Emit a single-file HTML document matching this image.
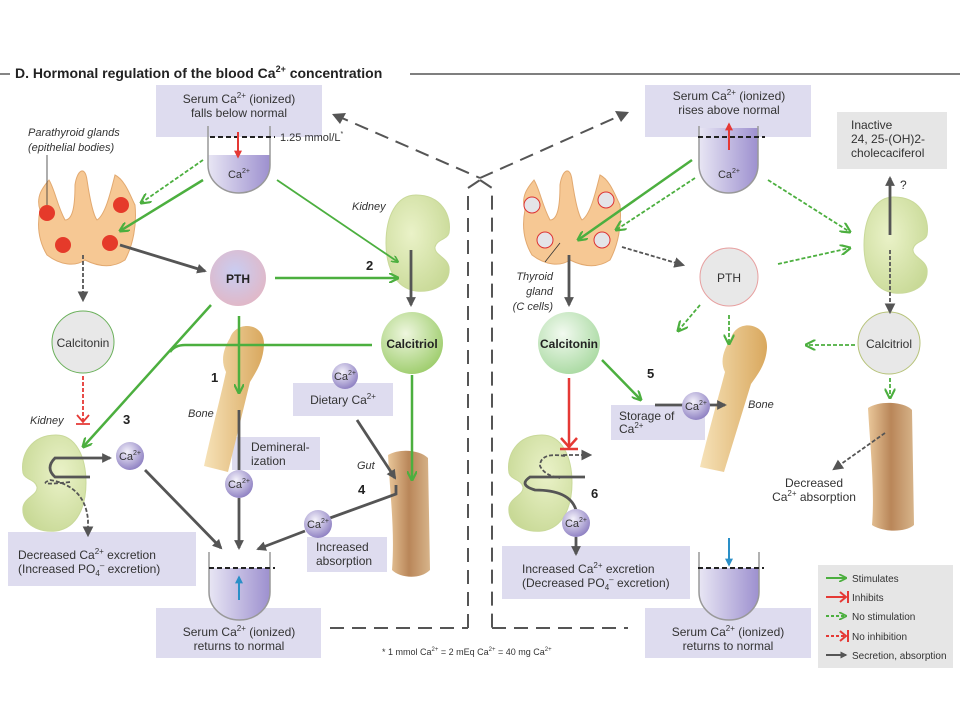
<!DOCTYPE html>
<html><head><meta charset="utf-8"><style>
body{margin:0;background:#fff}
svg{display:block;font-family:"Liberation Sans",sans-serif}
</style></head><body>
<svg width="960" height="720" viewBox="0 0 960 720" xmlns="http://www.w3.org/2000/svg">
<defs>
<marker id="ag" viewBox="0 0 10 10" refX="9" refY="5" markerWidth="4" markerHeight="4" orient="auto-start-reverse" markerUnits="strokeWidth"><path d="M0,0 L10,5 L0,10" fill="none" stroke="#4caf3f" stroke-width="2.2"/></marker>
<marker id="agd" viewBox="0 0 10 10" refX="9" refY="5" markerWidth="6" markerHeight="6" orient="auto" markerUnits="strokeWidth"><path d="M0,0 L10,5 L0,10" fill="none" stroke="#4caf3f" stroke-width="2"/></marker>
<marker id="ak" viewBox="0 0 10 10" refX="8" refY="5" markerWidth="3.5" markerHeight="3.5" orient="auto" markerUnits="strokeWidth"><path d="M0,0 L10,5 L0,10 Z" fill="#555"/></marker>
<marker id="akd" viewBox="0 0 10 10" refX="8" refY="5" markerWidth="6" markerHeight="6" orient="auto" markerUnits="strokeWidth"><path d="M0,0 L10,5 L0,10 Z" fill="#555"/></marker>
<marker id="ar" viewBox="0 0 10 10" refX="8" refY="5" markerWidth="4" markerHeight="4" orient="auto" markerUnits="strokeWidth"><path d="M0,0 L10,5 L0,10 Z" fill="#e53935"/></marker>
<marker id="ab" viewBox="0 0 10 10" refX="8" refY="5" markerWidth="4" markerHeight="4" orient="auto" markerUnits="strokeWidth"><path d="M0,0 L10,5 L0,10 Z" fill="#2a8fc7"/></marker>
<radialGradient id="sph" cx="0.4" cy="0.35" r="0.7"><stop offset="0" stop-color="#f4f2fb"/><stop offset="1" stop-color="#8a7cc0"/></radialGradient>
<radialGradient id="pth" cx="0.45" cy="0.4" r="0.6"><stop offset="0" stop-color="#c9cdf2"/><stop offset="1" stop-color="#e0b8c8"/></radialGradient>
<radialGradient id="grn" cx="0.4" cy="0.35" r="0.7"><stop offset="0" stop-color="#eef6de"/><stop offset="1" stop-color="#9ccc6a"/></radialGradient>
<radialGradient id="grn2" cx="0.4" cy="0.35" r="0.7"><stop offset="0" stop-color="#f2faf0"/><stop offset="1" stop-color="#a8d9a0"/></radialGradient>
<radialGradient id="kg" cx="0.4" cy="0.4" r="0.7"><stop offset="0" stop-color="#eaf2c8"/><stop offset="1" stop-color="#c8d996"/></radialGradient>
<linearGradient id="liq" x1="0" x2="1"><stop offset="0" stop-color="#e8e6f4"/><stop offset="1" stop-color="#9d90cf"/></linearGradient>
<linearGradient id="bone" x1="0" x2="1"><stop offset="0" stop-color="#f6e2b8"/><stop offset="1" stop-color="#d9a85e"/></linearGradient>
<linearGradient id="gut" x1="0" x2="1"><stop offset="0" stop-color="#e9c79a"/><stop offset="0.5" stop-color="#b98659"/><stop offset="1" stop-color="#d7b48a"/></linearGradient>
<g id="kid"><path d="M30,0 C55,0 66,20 63,38 C61,45 51,44 49,52 C48,60 61,62 63,72 C65,90 46,98 30,96 C8,93 0,70 0,48 C0,22 10,0 30,0 Z" fill="url(#kg)" stroke="#c9d99a"/></g>
<g id="thy"><path d="M5,45 C0,30 10,20 14,15 C20,25 22,40 30,55 C38,55 40,40 40,20 C42,5 50,0 52,15 C55,35 58,50 62,55 C70,50 75,30 80,10 C90,15 95,30 100,40 C102,60 98,80 90,95 C75,105 60,100 50,95 C40,102 25,100 12,90 C3,75 2,60 5,45 Z" fill="#f6c894" stroke="#e2a970"/></g>
</defs>

<line x1="0" y1="74" x2="10" y2="74" stroke="#333" stroke-width="1.2"/>
<line x1="410" y1="74" x2="960" y2="74" stroke="#333" stroke-width="1.2"/>
<text x="15" y="78" font-size="14" font-weight="bold" fill="#222">D. Hormonal regulation of the blood Ca<tspan font-size="9" dy="-6">2+</tspan><tspan dy="6"> concentration</tspan></text>

<g fill="#dedcef">
<rect x="156" y="85" width="166" height="52"/>
<rect x="645" y="85" width="166" height="52"/>
<rect x="8" y="532" width="188" height="54"/>
<rect x="156" y="608" width="165" height="50"/>
<rect x="645" y="608" width="166" height="50"/>
<rect x="502" y="546" width="188" height="53"/>
<rect x="293" y="383" width="100" height="33"/>
<rect x="232" y="437" width="88" height="33"/>
<rect x="307" y="537" width="80" height="35"/>
<rect x="611" y="405" width="94" height="35"/>
</g>
<rect x="837" y="112" width="110" height="57" fill="#e6e6e6"/>
<rect x="818" y="565" width="135" height="103" fill="#e6e6e6"/>

<g stroke="#555" stroke-width="2" fill="none" stroke-dasharray="14,8">
<polyline points="335,115 480,178"/>
<polyline points="480,178 626,113"/>
<polyline points="468,628 468,188 480,180"/>
<polyline points="480,180 492,188 492,628"/>
<line x1="330" y1="628" x2="468" y2="628"/>
<line x1="492" y1="628" x2="628" y2="628"/>
</g>
<path d="M332,114 L346,113 L340,124 Z" fill="#555"/>
<path d="M629,112 L615,111 L621,122 Z" fill="#555"/>

<g>
<path d="M208,155 L270,155 L270,165 A31,28 0 0 1 208,165 Z" fill="url(#liq)"/>
<path d="M208,126 L208,165 A31,28 0 0 0 270,165 L270,126" fill="none" stroke="#999" stroke-width="1.5"/>
<line x1="210" y1="137" x2="275" y2="137" stroke="#222" stroke-width="2" stroke-dasharray="5,3"/>
<line x1="238" y1="132" x2="238" y2="157" stroke="#e53935" stroke-width="2" marker-end="url(#ar)"/>
<text x="239" y="178" font-size="11" text-anchor="middle" fill="#333">Ca<tspan font-size="7" dy="-5">2+</tspan></text>
<text x="280" y="141" font-size="11" fill="#333">1.25 mmol/L<tspan font-size="7" dy="-5">*</tspan></text>

<path d="M699,128 L758,128 L758,165 A29.5,28 0 0 1 699,165 Z" fill="url(#liq)"/>
<path d="M699,126 L699,165 A29.5,28 0 0 0 758,165 L758,126" fill="none" stroke="#999" stroke-width="1.5"/>
<line x1="698" y1="137" x2="765" y2="137" stroke="#222" stroke-width="2" stroke-dasharray="5,3"/>
<line x1="729" y1="150" x2="729" y2="124" stroke="#e53935" stroke-width="2" marker-end="url(#ar)"/>
<text x="729" y="178" font-size="11" text-anchor="middle" fill="#333">Ca<tspan font-size="7" dy="-5">2+</tspan></text>

<path d="M209,568 L270,568 L270,592 A30.5,28 0 0 1 209,592 Z" fill="url(#liq)"/>
<path d="M209,552 L209,592 A30.5,28 0 0 0 270,592 L270,552" fill="none" stroke="#999" stroke-width="1.5"/>
<line x1="209" y1="568" x2="275" y2="568" stroke="#222" stroke-width="2" stroke-dasharray="5,3"/>
<line x1="239" y1="600" x2="239" y2="577" stroke="#2a8fc7" stroke-width="2" marker-end="url(#ab)"/>

<path d="M699,568 L759,568 L759,592 A30,28 0 0 1 699,592 Z" fill="url(#liq)"/>
<path d="M699,552 L699,592 A30,28 0 0 0 759,592 L759,552" fill="none" stroke="#999" stroke-width="1.5"/>
<line x1="698" y1="568" x2="764" y2="568" stroke="#222" stroke-width="2" stroke-dasharray="5,3"/>
<line x1="729" y1="538" x2="729" y2="565" stroke="#2a8fc7" stroke-width="2" marker-end="url(#ab)"/>
</g>

<use href="#thy" transform="translate(35,165)"/>
<g fill="#e53a2a"><circle cx="47" cy="213" r="8"/><circle cx="121" cy="205" r="8"/><circle cx="63" cy="245" r="8"/><circle cx="110" cy="243" r="8"/></g>
<line x1="47" y1="155" x2="47" y2="205" stroke="#333" stroke-width="0.8"/>
<use href="#thy" transform="translate(520,165)"/>
<g fill="#e4e4e8" stroke="#d33" stroke-width="1"><circle cx="532" cy="205" r="8"/><circle cx="606" cy="200" r="8"/><circle cx="545" cy="240" r="8"/><circle cx="602" cy="240" r="8"/></g>
<line x1="560" y1="243" x2="545" y2="262" stroke="#333" stroke-width="0.8"/>

<use href="#kid" transform="translate(386,195)"/>
<use href="#kid" transform="translate(864,197)"/>
<use href="#kid" transform="translate(86,435) scale(-1,1)"/>
<use href="#kid" transform="translate(572,435) scale(-1,1)"/>

<path d="M230,338 C236,320 265,322 264,345 C263,362 256,372 250,382 L228,472 L204,466 C212,430 221,395 226,372 C220,360 224,348 230,338 Z" fill="url(#bone)"/>
<path d="M731,338 C737,318 768,322 767,348 C766,364 758,374 751,384 L724,472 L700,467 C709,430 719,395 725,372 C719,360 725,348 731,338 Z" fill="url(#bone)"/>
<path d="M388,455 C400,448 420,450 428,458 L430,570 C420,580 400,578 392,570 C395,530 390,495 388,455 Z" fill="url(#gut)"/>
<path d="M868,408 C880,400 905,402 912,410 L914,525 C905,533 882,532 872,525 C875,490 870,445 868,408 Z" fill="url(#gut)"/>

<circle cx="238" cy="278" r="28" fill="url(#pth)"/>
<text x="238" y="283" font-size="12" font-weight="bold" text-anchor="middle" fill="#222">PTH</text>
<circle cx="412" cy="343" r="31" fill="url(#grn)"/>
<text x="412" y="348" font-size="12" font-weight="bold" text-anchor="middle" fill="#222">Calcitriol</text>
<circle cx="83" cy="342" r="31" fill="#e8e8e8" stroke="#6ab05a"/>
<text x="83" y="347" font-size="12" text-anchor="middle" fill="#333">Calcitonin</text>
<circle cx="729" cy="277" r="29" fill="#e8e8e8" stroke="#e7a0a0"/>
<text x="729" y="282" font-size="12" text-anchor="middle" fill="#333">PTH</text>
<circle cx="889" cy="343" r="31" fill="#e8e8e8" stroke="#b7c37a"/>
<text x="889" y="348" font-size="12" text-anchor="middle" fill="#333">Calcitriol</text>
<circle cx="569" cy="343" r="31" fill="url(#grn2)"/>
<text x="569" y="348" font-size="12" font-weight="bold" text-anchor="middle" fill="#222">Calcitonin</text>

<g stroke="#4caf3f" stroke-width="2.5" fill="none">
<line x1="203" y1="180" x2="120" y2="231" marker-end="url(#ag)"/>
<line x1="277" y1="180" x2="398" y2="262" stroke-width="1.8" marker-end="url(#ag)"/>
<line x1="275" y1="278" x2="398" y2="278" marker-end="url(#ag)"/>
<line x1="211" y1="305" x2="83" y2="447" marker-end="url(#ag)"/>
<path d="M372,345 L185,345 Q175,345 170,352"/>
<line x1="239" y1="316" x2="239" y2="393" marker-end="url(#ag)"/>
<line x1="412" y1="375" x2="412" y2="480" marker-end="url(#ag)"/>
<line x1="692" y1="160" x2="578" y2="240" marker-end="url(#ag)"/>
<line x1="602" y1="360" x2="641" y2="400" marker-end="url(#ag)"/>
</g>
<g stroke="#4caf3f" stroke-width="1.8" fill="none" stroke-dasharray="4,2">
<line x1="203" y1="160" x2="141" y2="203" marker-end="url(#agd)"/>
<line x1="695" y1="178" x2="616" y2="230" marker-end="url(#agd)"/>
<line x1="768" y1="180" x2="850" y2="232" marker-end="url(#agd)"/>
<line x1="778" y1="264" x2="850" y2="248" marker-end="url(#agd)"/>
<line x1="700" y1="305" x2="678" y2="331" marker-end="url(#agd)"/>
<line x1="729" y1="315" x2="729" y2="344" marker-end="url(#agd)"/>
<line x1="855" y1="345" x2="806" y2="345" marker-end="url(#agd)"/>
<line x1="890" y1="378" x2="890" y2="398" marker-end="url(#agd)"/>
</g>
<line x1="83" y1="376" x2="83" y2="423" stroke="#e53935" stroke-width="1.8" stroke-dasharray="4,2"/>
<path d="M77,415 L83,422 L89,415 M76,424 L90,424" stroke="#e53935" stroke-width="1.8" fill="none"/>
<line x1="569" y1="378" x2="569" y2="449" stroke="#e53935" stroke-width="2.5"/>
<path d="M561,438 L569,447 L577,438 M560,449 L578,449" stroke="#e53935" stroke-width="2.5" fill="none"/>

<g stroke="#555" stroke-width="2.8" fill="none">
<line x1="120" y1="245" x2="205" y2="271" marker-end="url(#ak)"/>
<line x1="411" y1="250" x2="411" y2="305" marker-end="url(#ak)"/>
<line x1="569" y1="255" x2="569" y2="305" marker-end="url(#ak)"/>
<line x1="890" y1="235" x2="890" y2="178" marker-end="url(#ak)"/>
<line x1="357" y1="420" x2="395" y2="478" marker-end="url(#ak)"/>
<path d="M90,477 L55,477 Q45,468 55,458 L110,458" marker-end="url(#ak)"/>
<line x1="145" y1="470" x2="221" y2="548" marker-end="url(#ak)"/>
<line x1="239" y1="410" x2="239" y2="470"/>
<line x1="239" y1="498" x2="239" y2="548" marker-end="url(#ak)"/>
<polyline points="396,485 396,494 330,518"/>
<line x1="305" y1="531" x2="258" y2="549" marker-end="url(#ak)"/>
<line x1="655" y1="405" x2="725" y2="405" marker-end="url(#ak)"/>
<path d="M585,477 L530,477 Q518,485 535,490 Q570,490 576,510"/>
<line x1="576" y1="537" x2="576" y2="554" marker-end="url(#ak)"/>
</g>
<g stroke="#555" stroke-width="1.8" fill="none" stroke-dasharray="4,2">
<line x1="83" y1="255" x2="83" y2="300" marker-end="url(#akd)"/>
<line x1="890" y1="250" x2="890" y2="312" marker-end="url(#akd)"/>
<line x1="622" y1="247" x2="683" y2="265" marker-end="url(#akd)"/>
<line x1="885" y1="433" x2="834" y2="469" marker-end="url(#akd)"/>
<path d="M70,482 Q35,486 50,480 Q85,486 88,520 L88,535" marker-end="url(#akd)"/>
<path d="M565,456 Q540,452 540,466 Q545,476 560,478" />
<line x1="563" y1="455" x2="590" y2="455" marker-end="url(#akd)"/>
</g>

<g font-size="11" text-anchor="middle" fill="#333">
<circle cx="345" cy="376" r="13" fill="url(#sph)"/><text x="345" y="380">Ca<tspan font-size="7" dy="-5">2+</tspan></text>
<circle cx="130" cy="456" r="14" fill="url(#sph)"/><text x="130" y="460">Ca<tspan font-size="7" dy="-5">2+</tspan></text>
<circle cx="239" cy="484" r="14" fill="url(#sph)"/><text x="239" y="488">Ca<tspan font-size="7" dy="-5">2+</tspan></text>
<circle cx="318" cy="524" r="14" fill="url(#sph)"/><text x="318" y="528">Ca<tspan font-size="7" dy="-5">2+</tspan></text>
<circle cx="696" cy="406" r="14" fill="url(#sph)"/><text x="696" y="410">Ca<tspan font-size="7" dy="-5">2+</tspan></text>
<circle cx="576" cy="523" r="14" fill="url(#sph)"/><text x="576" y="527">Ca<tspan font-size="7" dy="-5">2+</tspan></text>
</g>

<g font-size="12" fill="#333" text-anchor="middle">
<text x="239" y="103">Serum Ca<tspan font-size="8" dy="-5">2+</tspan><tspan dy="5"> (ionized)</tspan></text>
<text x="239" y="117">falls below normal</text>
<text x="729" y="100">Serum Ca<tspan font-size="8" dy="-5">2+</tspan><tspan dy="5"> (ionized)</tspan></text>
<text x="729" y="114">rises above normal</text>
<text x="239" y="636">Serum Ca<tspan font-size="8" dy="-5">2+</tspan><tspan dy="5"> (ionized)</tspan></text>
<text x="239" y="650">returns to normal</text>
<text x="728" y="636">Serum Ca<tspan font-size="8" dy="-5">2+</tspan><tspan dy="5"> (ionized)</tspan></text>
<text x="728" y="650">returns to normal</text>
<text x="343" y="404">Dietary Ca<tspan font-size="8" dy="-5">2+</tspan></text>
<text x="814" y="487">Decreased</text>
<text x="814" y="501">Ca<tspan font-size="8" dy="-5">2+</tspan><tspan dy="5"> absorption</tspan></text>
</g>
<g font-size="12" fill="#333">
<text x="18" y="559">Decreased Ca<tspan font-size="8" dy="-5">2+</tspan><tspan dy="5"> excretion</tspan></text>
<text x="18" y="573">(Increased PO<tspan font-size="8" dy="3">4</tspan><tspan font-size="8" dy="-8">–</tspan><tspan dy="5"> excretion)</tspan></text>
<text x="522" y="573">Increased Ca<tspan font-size="8" dy="-5">2+</tspan><tspan dy="5"> excretion</tspan></text>
<text x="522" y="587">(Decreased PO<tspan font-size="8" dy="3">4</tspan><tspan font-size="8" dy="-8">–</tspan><tspan dy="5"> excretion)</tspan></text>
<text x="251" y="451">Demineral-</text>
<text x="251" y="465">ization</text>
<text x="316" y="551">Increased</text>
<text x="316" y="565">absorption</text>
<text x="619" y="420">Storage of</text>
<text x="619" y="433">Ca<tspan font-size="8" dy="-5">2+</tspan></text>
<text x="851" y="129">Inactive</text>
<text x="851" y="143">24, 25-(OH)2-</text>
<text x="851" y="157">cholecaciferol</text>
<text x="900" y="189">?</text>
</g>
<g font-size="11" fill="#333" font-style="italic">
<text x="28" y="136">Parathyroid glands</text>
<text x="28" y="151">(epithelial bodies)</text>
<text x="352" y="210">Kidney</text>
<text x="30" y="424">Kidney</text>
<text x="188" y="417">Bone</text>
<text x="357" y="469">Gut</text>
<text x="748" y="408">Bone</text>
<text x="553" y="280" text-anchor="end">Thyroid</text>
<text x="553" y="295" text-anchor="end">gland</text>
<text x="553" y="310" text-anchor="end">(C cells)</text>
</g>
<g font-size="13" font-weight="bold" fill="#222">
<text x="366" y="270">2</text><text x="211" y="382">1</text><text x="123" y="424">3</text>
<text x="358" y="494">4</text><text x="647" y="378">5</text><text x="591" y="498">6</text>
</g>
<text x="382" y="655" font-size="9" fill="#333">* 1 mmol Ca<tspan font-size="6" dy="-4">2+</tspan><tspan dy="4"> = 2 mEq Ca</tspan><tspan font-size="6" dy="-4">2+</tspan><tspan dy="4"> = 40 mg Ca</tspan><tspan font-size="6" dy="-4">2+</tspan></text>

<g stroke-width="2" fill="none">
<line x1="826" y1="578" x2="846" y2="578" stroke="#4caf3f" marker-end="url(#ag)"/>
<line x1="826" y1="597" x2="846" y2="597" stroke="#e53935"/><path d="M840,592 L846,597 L840,602 M848,591 L848,603" stroke="#e53935"/>
<line x1="826" y1="616" x2="846" y2="616" stroke="#4caf3f" stroke-dasharray="3,2" marker-end="url(#ag)"/>
<line x1="826" y1="636" x2="846" y2="636" stroke="#e53935" stroke-dasharray="3,2"/><path d="M840,631 L846,636 L840,641 M848,630 L848,642" stroke="#e53935"/>
<line x1="826" y1="655" x2="846" y2="655" stroke="#555" marker-end="url(#ak)"/>
</g>
<g font-size="10" fill="#333">
<text x="852" y="582">Stimulates</text><text x="852" y="601">Inhibits</text><text x="852" y="620">No stimulation</text>
<text x="852" y="640">No inhibition</text><text x="852" y="659">Secretion, absorption</text>
</g>
</svg>
</body></html>
